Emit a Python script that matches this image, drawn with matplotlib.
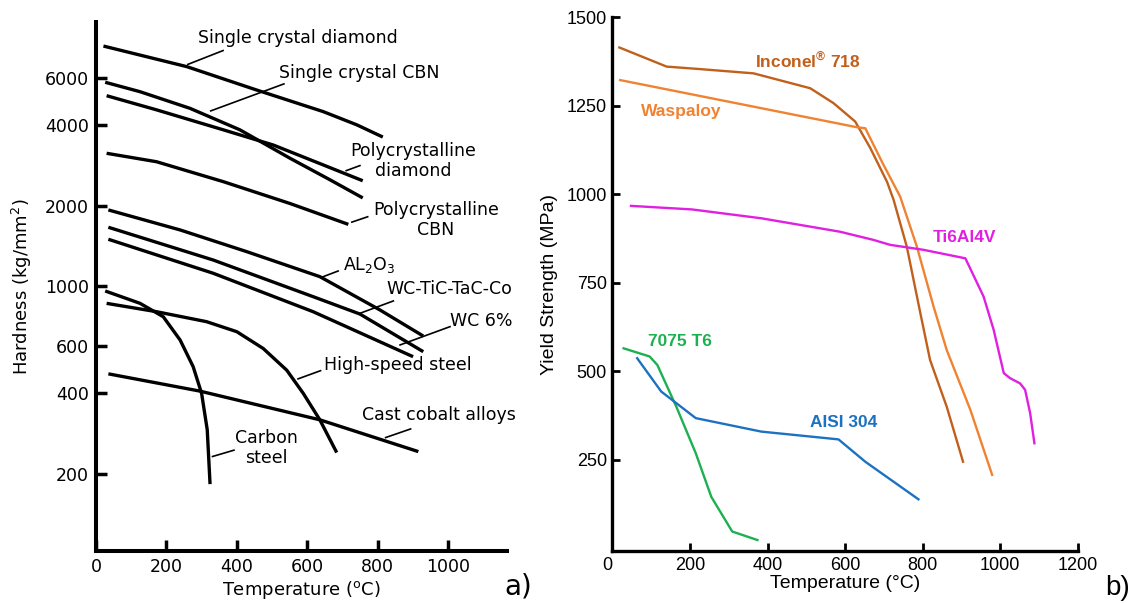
import numpy as np
import matplotlib.pyplot as plt

# ---- a) hardness of tool materials vs temperature (log scale) ----
t_diamond = [21, 258, 456, 646, 741, 815]
h_diamond = [7890, 6610, 5410, 4490, 4010, 3610]
t_cbn = [26, 125, 267, 409, 551, 665, 758]
h_cbn = [5780, 5330, 4620, 3840, 3010, 2500, 2140]
t_pcd = [30, 172, 362, 504, 646, 758]
h_pcd = [5150, 4560, 3840, 3370, 2840, 2480]
t_pcbn = [30, 172, 362, 551, 717]
h_pcbn = [3140, 2920, 2460, 2040, 1705]
t_al2o3 = [35, 239, 428, 636, 807, 930]
h_al2o3 = [1930, 1625, 1349, 1088, 817, 653]
t_wctic = [35, 333, 617, 750, 930]
h_wctic = [1663, 1255, 916, 789, 571]
t_wc6 = [35, 333, 617, 901]
h_wc6 = [1500, 1120, 805, 547]
t_carbon = [26, 125, 191, 239, 276, 300, 316, 324]
h_carbon = [962, 865, 771, 631, 502, 399, 292, 183]
t_hss = [30, 172, 314, 400, 475, 542, 589, 636, 684]
h_hss = [865, 805, 739, 678, 587, 487, 399, 318, 240]
t_cobalt = [35, 295, 636, 916]
h_cobalt = [472, 407, 318, 242]

# label text, label position, leader line (x0, y0, x1, y1), alignment
labels_a = [
    ("Single crystal diamond", 574, 8470, (361, 7590, 261, 6740), "center"),
    ("Single crystal CBN", 749, 6280, (534, 5700, 326, 4520), "center"),
    ("Polycrystalline\ndiamond", 901, 2930, (750, 2825, 711, 2705), "center"),
    ("Polycrystalline\nCBN", 966, 1774, (772, 1820, 727, 1738), "center"),
    ("AL$_2$O$_3$", 702, 1203, (688, 1142, 641, 1082), "left"),
    ("WC-TiC-TaC-Co", 824, 977, (845, 883, 750, 794), "left"),
    ("WC 6%", 1007, 745, (1006, 708, 864, 605), "left"),
    ("High-speed steel", 648, 509, (638, 485, 574, 452), "left"),
    ("Cast cobalt alloys", 757, 332, (894, 294, 823, 273), "left"),
    ("Carbon\nsteel", 483, 249, (392, 245, 331, 232), "center"),
]

# ---- b) yield strength vs temperature ----
t_inconel = [18, 140, 226, 364, 510, 570, 626, 665, 708, 725, 759, 794, 819, 862, 904]
s_inconel = [1414, 1360, 1353, 1341, 1299, 1257, 1205, 1130, 1035, 984, 852, 664, 532, 400, 245]
t_waspaloy = [20, 630, 652, 697, 742, 785, 828, 862, 923, 979]
s_waspaloy = [1322, 1189, 1186, 1087, 993, 852, 683, 560, 391, 208]
t_ti = [48, 205, 384, 587, 673, 716, 802, 910, 957, 983, 1009, 1025, 1051, 1064, 1077, 1088]
s_ti = [967, 957, 932, 894, 871, 857, 843, 819, 711, 617, 495, 481, 466, 448, 382, 297]
t_7075 = [29, 96, 116, 165, 215, 255, 309, 374]
s_7075 = [565, 542, 518, 400, 269, 146, 48, 24]
t_aisi = [64, 126, 215, 384, 583, 652, 789]
s_aisi = [537, 443, 368, 330, 308, 245, 139]

c_inconel = '#C0601C'
c_waspaloy = '#F08232'
c_ti = '#E020E0'
c_7075 = '#1DB050'
c_aisi = '#1C72C0'

fig = plt.figure(figsize=(11.34, 6.03), dpi=100)

# ---------------- panel a ----------------
ax1 = fig.add_axes([0.0847, 0.0862, 0.3624, 0.8773])
for t, h in [(t_diamond, h_diamond), (t_cbn, h_cbn), (t_pcd, h_pcd), (t_pcbn, h_pcbn),
             (t_al2o3, h_al2o3), (t_wctic, h_wctic), (t_wc6, h_wc6),
             (t_carbon, h_carbon), (t_hss, h_hss), (t_cobalt, h_cobalt)]:
    ax1.plot(t, h, color='black', lw=2.4, solid_capstyle='butt', solid_joinstyle='round')

for text, x, y, (lx0, ly0, lx1, ly1), ha in labels_a:
    ax1.text(x, y, text, ha=ha, va='center', fontsize=12.5, family='DejaVu Sans',
             linespacing=1.15, clip_on=False)
    ax1.plot([lx0, lx1], [ly0, ly1], color='black', lw=1.2)

ax1.set_yscale('log')
ax1.set_xlim(0, 1168)
ax1.set_ylim(103, 9700)
ax1.set_yticks([200, 400, 600, 1000, 2000, 4000, 6000])
ax1.set_yticklabels(['200', '400', '600', '1000', '2000', '4000', '6000'])
ax1.yaxis.set_minor_locator(plt.NullLocator())
ax1.set_xticks([0, 200, 400, 600, 800, 1000])
ax1.tick_params(direction='in', length=8, width=2.5, labelsize=12.5, pad=5)
for s in ['top', 'right']:
    ax1.spines[s].set_visible(False)
for s in ['left', 'bottom']:
    ax1.spines[s].set_linewidth(2.9)
ax1.set_xlabel('Temperature ($^\\mathregular{o}$C)', fontsize=13, labelpad=2)
ax1.set_ylabel('Hardness (kg/mm$^\\mathregular{2}$)', fontsize=13, labelpad=8)
fig.text(518 / 1134, 1 - 587 / 603, 'a)', fontsize=20, ha='center', va='center')

# ---------------- panel b ----------------
ax2 = fig.add_axes([0.540, 0.0862, 0.4105, 0.8856])
for t, s, c in [(t_inconel, s_inconel, c_inconel), (t_waspaloy, s_waspaloy, c_waspaloy),
                (t_ti, s_ti, c_ti), (t_7075, s_7075, c_7075), (t_aisi, s_aisi, c_aisi)]:
    ax2.plot(t, s, color=c, lw=1.7, solid_joinstyle='round')

bold = dict(fontsize=12.5, fontweight='bold', family='Liberation Sans', va='center')
ax2.text(367, 1379, 'Inconel$^{\\mathregular{®}}$ 718', color=c_inconel, **bold)
ax2.text(73, 1232, 'Waspaloy', color=c_waspaloy, **bold)
ax2.text(826, 879, 'Ti6Al4V', color=c_ti, **bold)
ax2.text(91, 583, '7075 T6', color=c_7075, **bold)
ax2.text(510, 357, 'AISI 304', color=c_aisi, **bold)

ax2.set_xlim(0, 1200)
ax2.set_ylim(-7, 1500)
ax2.set_xticks([0, 200, 400, 600, 800, 1000, 1200])
ax2.set_yticks([250, 500, 750, 1000, 1250, 1500])
ax2.tick_params(direction='in', length=6, width=2, labelsize=13, pad=4)
for lab in ax2.get_xticklabels() + ax2.get_yticklabels():
    lab.set_family('Liberation Sans')
ax2.get_xticklabels()[0].set_ha('right')
for s in ['top', 'right']:
    ax2.spines[s].set_visible(False)
for s in ['left', 'bottom']:
    ax2.spines[s].set_linewidth(2.4)
ax2.set_xlabel('Temperature (°C)', fontsize=14, family='Liberation Sans', labelpad=1)
ax2.set_ylabel('Yield Strength (MPa)', fontsize=14, family='Liberation Sans', labelpad=6)
fig.text(1118 / 1134, 1 - 588 / 603, 'b)', fontsize=20, family='Liberation Sans',
         ha='center', va='center')

fig.savefig('out.png', dpi=100)
